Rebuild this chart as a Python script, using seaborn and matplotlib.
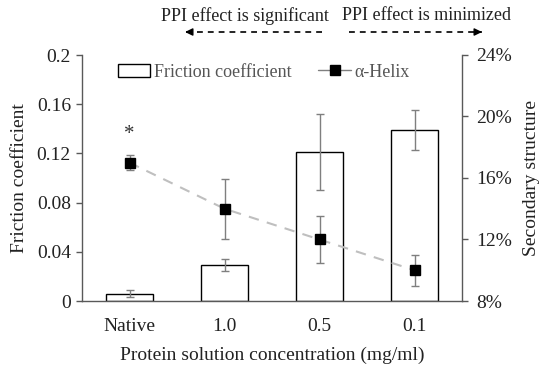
import numpy as np
import matplotlib
matplotlib.use("Agg")
import matplotlib.pyplot as plt
from matplotlib.patches import Patch, FancyArrowPatch
from matplotlib.lines import Line2D
import seaborn as sns

categories = ["Native", "1.0", "0.5", "0.1"]
friction = [0.006, 0.029, 0.121, 0.139]
friction_err = [0.003, 0.005, 0.031, 0.016]
helix = [17.0, 14.0, 12.0, 10.0]
helix_err = [0.5, 1.95, 1.5, 1.0]
left_ticks = [0, 0.04, 0.08, 0.12, 0.16, 0.2]
left_ticklabels = ["0", "0.04", "0.08", "0.12", "0.16", "0.2"]
right_ticks = [8, 12, 16, 20, 24]

sns.set_theme(style="white")
plt.rcParams["font.family"] = ["Liberation Serif", "DejaVu Serif"]

fig = plt.figure(figsize=(5.5, 3.72), dpi=100)
ax = fig.add_axes([82 / 550, 1 - 301 / 372, 380 / 550, 246 / 372])

spine_c = "#595959"
text_c = "#222222"
err_c = "#7f7f7f"

sns.barplot(x=categories, y=friction, ax=ax, width=0.5, color="white",
            edgecolor="black", linewidth=1.0, errorbar=None, saturation=1)
pos = np.arange(len(categories))
ax.errorbar(pos, friction, yerr=friction_err, fmt="none", ecolor=err_c,
            elinewidth=1.0, capsize=3, capthick=1.0, zorder=3)
ax.set_xlim(-0.5, 3.5)
ax.set_ylim(0, 0.2)
ax.set_yticks(left_ticks)
ax.set_yticklabels(left_ticklabels)
ax.set_xlabel("Protein solution concentration (mg/ml)", fontsize=14, color=text_c, labelpad=9)
ax.set_ylabel("Friction coefficient", fontsize=14, color=text_c, labelpad=6)
ax.tick_params(axis="y", direction="out", length=4, width=1, color=spine_c,
               labelsize=14, labelcolor=text_c, left=True, pad=4)
ax.tick_params(axis="x", length=0, labelsize=14, labelcolor=text_c, pad=12)
for s in ["top", "right"]:
    ax.spines[s].set_visible(False)
for s in ["left", "bottom"]:
    ax.spines[s].set_color(spine_c)
    ax.spines[s].set_linewidth(1.0)

ax2 = ax.twinx()
sns.lineplot(x=pos, y=helix, ax=ax2, color="#bfbfbf", linestyle=(0, (5, 4)),
             linewidth=1.5, zorder=2)
ax2.errorbar(pos, helix, yerr=helix_err, fmt="s", color="black", ms=7,
             ecolor=err_c, elinewidth=1.0, capsize=3, capthick=1.0, zorder=4)
ax2.set_ylim(8, 24)
ax2.set_yticks(right_ticks)
ax2.set_yticklabels([f"{t}%" for t in right_ticks])
ax2.set_ylabel("Secondary structure", fontsize=14, color=text_c, labelpad=8)
ax2.tick_params(axis="y", direction="out", length=4, width=1, color=spine_c,
                labelsize=14, labelcolor=text_c, right=True, pad=6)
ax2.spines["top"].set_visible(False)
ax2.spines["left"].set_visible(False)
ax2.spines["bottom"].set_visible(False)
ax2.spines["right"].set_color(spine_c)
ax2.spines["right"].set_linewidth(1.0)
ax2.set_xlim(-0.5, 3.5)

ax2.text(pos[0], 18.8, "*", ha="center", va="center", fontsize=15, color="#333333")

handles = [Patch(facecolor="white", edgecolor="black", linewidth=1.0),
           Line2D([], [], color="#7f7f7f", linewidth=1.0, marker="s", ms=7,
                  markerfacecolor="black", markeredgecolor="black")]
ax2.legend(handles, ["Friction coefficient", "α-Helix"], loc="center",
           bbox_to_anchor=(0.478, 0.93), ncol=2, frameon=False, fontsize=13,
           handlelength=1.8, handletextpad=0.2, columnspacing=1.5,
           labelcolor="#555555")

fig.text(244.5 / 550, 1 - 16 / 372, "PPI effect is significant", ha="center",
         va="center", fontsize=13, color=text_c)
fig.text(427 / 550, 1 - 16 / 372, "PPI effect is minimized", ha="center",
         va="center", fontsize=13, color=text_c)

ay = 1 - 32 / 372
def dashed_arrow(x0, x1):
    fig.add_artist(Line2D([x0 / 550, x1 / 550], [ay, ay], transform=fig.transFigure,
                          color="black", linewidth=1.2, linestyle=(0, (3.5, 3))))
    d = 6 if x1 > x0 else -6
    fig.add_artist(FancyArrowPatch(((x1 - d) / 550, ay), (x1 / 550, ay),
                                   transform=fig.transFigure,
                                   arrowstyle="-|>,head_length=0.45,head_width=0.22",
                                   color="black", linewidth=1.0, shrinkA=0, shrinkB=0,
                                   mutation_scale=10))

dashed_arrow(322, 185)
dashed_arrow(349, 482)

fig.savefig("out.png", dpi=100)
